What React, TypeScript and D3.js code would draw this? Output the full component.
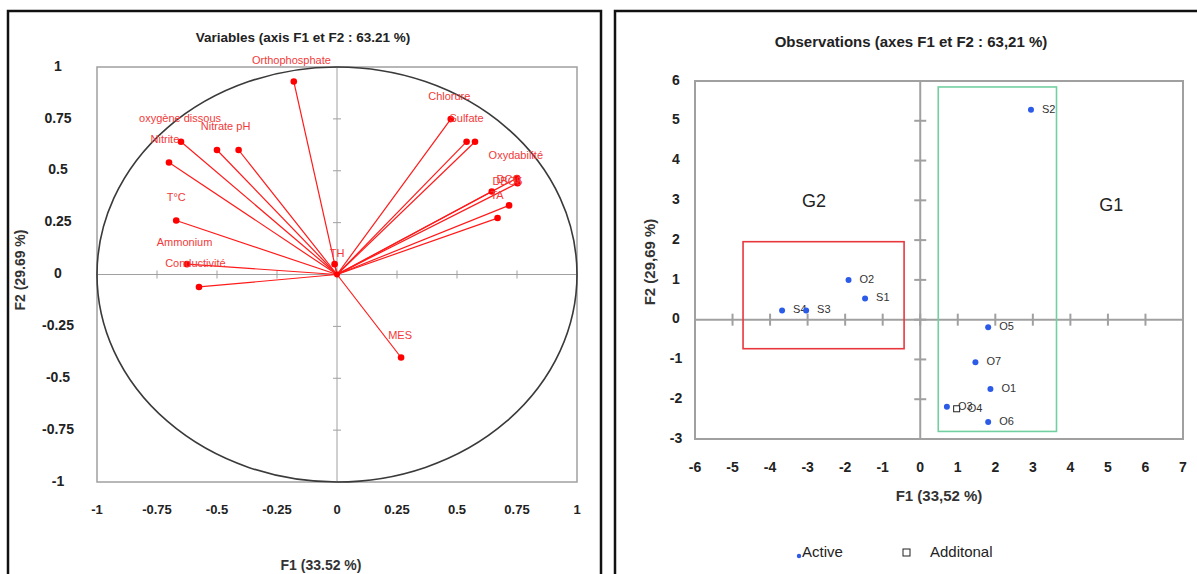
import React, { useEffect, useRef } from 'react';
import * as d3 from 'd3';

// ---- left panel: correlation circle ----
const circleTicks = [-1, -0.75, -0.5, -0.25, 0, 0.25, 0.5, 0.75, 1];
const circleTickLabels = ['-1', '-0.75', '-0.5', '-0.25', '0', '0.25', '0.5', '0.75', '1'];

// loadings of the variables (F1, F2)
const loadF1 = [-0.18, -0.65, -0.5, -0.41, -0.7, -0.67, -0.625, -0.575, 0.474, 0.54, 0.575, 0.75, 0.752, 0.645, 0.717, 0.669, 0.267, -0.01];
const loadF2 = [0.93, 0.64, 0.6, 0.6, 0.54, 0.26, 0.05, -0.06, 0.749, 0.64, 0.64, 0.465, 0.44, 0.4, 0.333, 0.272, -0.4, 0.05];

// variable labels, where XLSTAT put them
const varLabels = ['Orthophosphate', 'oxygène dissous', 'Nitrate', 'pH', 'Nitrite', 'T°C', 'Ammonium', 'Conductivité', 'Chlorure', 'Sulfate', 'Oxydabilité', 'DBO5', 'DCO', 'TA', 'MES', 'TH'];
const labelF1 = [-0.19, -0.654, -0.5, -0.39, -0.717, -0.67, -0.635, -0.59, 0.468, 0.54, 0.745, 0.71, 0.716, 0.667, 0.263, 0.0];
const labelF2 = [1.03, 0.749, 0.71, 0.71, 0.65, 0.367, 0.15, 0.048, 0.855, 0.749, 0.57, 0.445, 0.455, 0.38, -0.295, 0.1];

// ---- right panel: observations ----
const obsXTicks = [-6, -5, -4, -3, -2, -1, 0, 1, 2, 3, 4, 5, 6, 7];
const obsYTicks = [-3, -2, -1, 0, 1, 2, 3, 4, 5, 6];

const obsNames = ['S2', 'O2', 'S1', 'S4', 'S3', 'O5', 'O7', 'O1', 'O6', 'O3'];
const obsF1 = [2.95, -1.91, -1.47, -3.68, -3.04, 1.81, 1.47, 1.87, 1.81, 0.71];
const obsF2 = [5.28, 1.0, 0.53, 0.23, 0.23, -0.19, -1.07, -1.74, -2.57, -2.19];

const supNames = ['O4'];
const supF1 = [0.97];
const supF2 = [-2.24];

const groupNames = ['G2', 'G1'];
const groupLabelF1 = [-2.83, 5.09];
const groupLabelF2 = [2.94, 2.84];
const groupX0 = [-4.72, 0.48];
const groupX1 = [-0.43, 3.63];
const groupY0 = [-0.73, -2.81];
const groupY1 = [1.96, 5.85];
const groupColors = ['#e8383d', '#72d0a0'];

const W = 1197;
const H = 574;
const FONT = "'Liberation Sans', Arial, sans-serif";

const App: React.FC = () => {
  const svgRef = useRef<SVGSVGElement>(null);

  useEffect(() => {
    if (!svgRef.current) return;
    const svg = d3.select(svgRef.current);
    svg.selectAll('*').remove();

    svg.append('rect').attr('width', W).attr('height', H).attr('fill', '#fff');

    // panel frames
    svg.append('rect')
      .attr('x', 8).attr('y', 11).attr('width', 593).attr('height', 620)
      .attr('fill', 'none').attr('stroke', '#111').attr('stroke-width', 2.5);
    svg.append('rect')
      .attr('x', 615).attr('y', 11).attr('width', 620).attr('height', 620)
      .attr('fill', 'none').attr('stroke', '#111').attr('stroke-width', 2.5);

    // ================= left: variables =================
    const xL = d3.scaleLinear().domain([-1, 1]).range([97, 577]);
    const yL = d3.scaleLinear().domain([-1, 1]).range([482, 67]);
    const gL = svg.append('g');

    gL.append('rect')
      .attr('x', xL(-1)).attr('y', yL(1))
      .attr('width', xL(1) - xL(-1)).attr('height', yL(-1) - yL(1))
      .attr('fill', 'none').attr('stroke', '#a0a0a0').attr('stroke-width', 1.5);

    // axes through origin
    gL.append('line')
      .attr('x1', xL(-1)).attr('x2', xL(1)).attr('y1', yL(0)).attr('y2', yL(0))
      .attr('stroke', '#a0a0a0').attr('stroke-width', 1);
    gL.append('line')
      .attr('x1', xL(0)).attr('x2', xL(0)).attr('y1', yL(1)).attr('y2', yL(-1))
      .attr('stroke', '#a0a0a0').attr('stroke-width', 1);

    circleTicks.forEach(t => {
      gL.append('line')
        .attr('x1', xL(t)).attr('x2', xL(t)).attr('y1', yL(0) - 4).attr('y2', yL(0) + 4)
        .attr('stroke', '#a0a0a0').attr('stroke-width', 1);
      gL.append('line')
        .attr('x1', xL(0) - 4).attr('x2', xL(0) + 4).attr('y1', yL(t)).attr('y2', yL(t))
        .attr('stroke', '#a0a0a0').attr('stroke-width', 1);
    });

    // correlation circle
    gL.append('ellipse')
      .attr('cx', xL(0)).attr('cy', yL(0))
      .attr('rx', xL(1) - xL(0)).attr('ry', yL(0) - yL(1))
      .attr('fill', 'none').attr('stroke', '#3a3a3a').attr('stroke-width', 1.6);

    // tick labels
    circleTicks.forEach((t, i) => {
      gL.append('text')
        .attr('x', xL(t)).attr('y', 514)
        .attr('text-anchor', 'middle')
        .style('font-family', FONT).style('font-size', '13px').style('font-weight', '700')
        .style('fill', '#222')
        .text(circleTickLabels[i]);
      gL.append('text')
        .attr('x', 58).attr('y', yL(t))
        .attr('text-anchor', 'middle').attr('dominant-baseline', 'middle')
        .style('font-family', FONT).style('font-size', '14px').style('font-weight', '700')
        .style('fill', '#222')
        .text(circleTickLabels[i]);
    });

    // vectors
    loadF1.forEach((f1, i) => {
      gL.append('line')
        .attr('x1', xL(0)).attr('y1', yL(0))
        .attr('x2', xL(f1)).attr('y2', yL(loadF2[i]))
        .attr('stroke', '#ff1a1a').attr('stroke-width', 1.2);
    });
    loadF1.forEach((f1, i) => {
      gL.append('circle')
        .attr('cx', xL(f1)).attr('cy', yL(loadF2[i])).attr('r', 3.3)
        .attr('fill', '#ff0000');
    });
    gL.append('circle')
      .attr('cx', xL(0)).attr('cy', yL(0)).attr('r', 3)
      .attr('fill', '#ff0000');

    varLabels.forEach((name, i) => {
      gL.append('text')
        .attr('x', xL(labelF1[i])).attr('y', yL(labelF2[i]))
        .attr('text-anchor', 'middle').attr('dominant-baseline', 'middle')
        .style('font-family', FONT).style('font-size', '11px')
        .style('fill', '#f23a3a')
        .text(name);
    });

    // titles
    gL.append('text')
      .attr('x', 303).attr('y', 42)
      .attr('text-anchor', 'middle')
      .style('font-family', FONT).style('font-size', '13.5px').style('font-weight', '700')
      .style('fill', '#222')
      .text('Variables (axis F1 et F2 : 63.21 %)');
    gL.append('text')
      .attr('x', 321).attr('y', 570)
      .attr('text-anchor', 'middle')
      .style('font-family', FONT).style('font-size', '14px').style('font-weight', '700')
      .style('fill', '#333')
      .text('F1 (33.52 %)');
    gL.append('text')
      .attr('transform', 'translate(25,270) rotate(-90)')
      .attr('text-anchor', 'middle')
      .style('font-family', FONT).style('font-size', '14px').style('font-weight', '700')
      .style('fill', '#333')
      .text('F2 (29.69 %)');

    // ================= right: observations =================
    const xR = d3.scaleLinear().domain([-6, 7]).range([695, 1183]);
    const yR = d3.scaleLinear().domain([-3, 6]).range([439, 81]);
    const gR = svg.append('g');

    gR.append('rect')
      .attr('x', xR(-6)).attr('y', yR(6))
      .attr('width', xR(7) - xR(-6)).attr('height', yR(-3) - yR(6))
      .attr('fill', 'none').attr('stroke', '#a0a0a0').attr('stroke-width', 2);

    gR.append('line')
      .attr('x1', xR(-6)).attr('x2', xR(7)).attr('y1', yR(0)).attr('y2', yR(0))
      .attr('stroke', '#a0a0a0').attr('stroke-width', 2);
    gR.append('line')
      .attr('x1', xR(0)).attr('x2', xR(0)).attr('y1', yR(6)).attr('y2', yR(-3))
      .attr('stroke', '#a0a0a0').attr('stroke-width', 2);

    obsXTicks.forEach(t => {
      gR.append('line')
        .attr('x1', xR(t)).attr('x2', xR(t)).attr('y1', yR(0) - 6).attr('y2', yR(0) + 6)
        .attr('stroke', '#a0a0a0').attr('stroke-width', 2);
      gR.append('text')
        .attr('x', xR(t)).attr('y', 472)
        .attr('text-anchor', 'middle')
        .style('font-family', FONT).style('font-size', '14px').style('font-weight', '700')
        .style('fill', '#222')
        .text(String(t));
    });
    obsYTicks.forEach(t => {
      gR.append('line')
        .attr('x1', xR(0) - 6).attr('x2', xR(0) + 6).attr('y1', yR(t)).attr('y2', yR(t))
        .attr('stroke', '#a0a0a0').attr('stroke-width', 2);
      gR.append('text')
        .attr('x', 676).attr('y', yR(t))
        .attr('text-anchor', 'middle').attr('dominant-baseline', 'middle')
        .style('font-family', FONT).style('font-size', '14px').style('font-weight', '700')
        .style('fill', '#222')
        .text(String(t));
    });

    // group boxes
    groupNames.forEach((name, i) => {
      gR.append('rect')
        .attr('x', xR(groupX0[i])).attr('y', yR(groupY1[i]))
        .attr('width', xR(groupX1[i]) - xR(groupX0[i]))
        .attr('height', yR(groupY0[i]) - yR(groupY1[i]))
        .attr('fill', 'none').attr('stroke', groupColors[i]).attr('stroke-width', 1.6);
      gR.append('text')
        .attr('x', xR(groupLabelF1[i])).attr('y', yR(groupLabelF2[i]))
        .attr('text-anchor', 'middle').attr('dominant-baseline', 'middle')
        .style('font-family', FONT).style('font-size', '18px')
        .style('fill', '#222')
        .text(name);
    });

    // active observations
    obsNames.forEach((name, i) => {
      gR.append('circle')
        .attr('cx', xR(obsF1[i])).attr('cy', yR(obsF2[i])).attr('r', 3)
        .attr('fill', '#2c5be8');
      gR.append('text')
        .attr('x', xR(obsF1[i]) + 11).attr('y', yR(obsF2[i]))
        .attr('dominant-baseline', 'middle')
        .style('font-family', FONT).style('font-size', '11px')
        .style('fill', '#333')
        .text(name);
    });

    // supplementary observation
    supNames.forEach((name, i) => {
      gR.append('rect')
        .attr('x', xR(supF1[i]) - 3).attr('y', yR(supF2[i]) - 3)
        .attr('width', 6).attr('height', 6)
        .attr('fill', '#fff').attr('stroke', '#222').attr('stroke-width', 1);
      gR.append('text')
        .attr('x', xR(supF1[i]) + 11).attr('y', yR(supF2[i]))
        .attr('dominant-baseline', 'middle')
        .style('font-family', FONT).style('font-size', '11px')
        .style('fill', '#333')
        .text(name);
    });

    // titles
    gR.append('text')
      .attr('x', 911).attr('y', 47)
      .attr('text-anchor', 'middle')
      .style('font-family', FONT).style('font-size', '15px').style('font-weight', '700')
      .style('fill', '#222')
      .text('Observations (axes F1 et F2 : 63,21 %)');
    gR.append('text')
      .attr('x', 939).attr('y', 501)
      .attr('text-anchor', 'middle')
      .style('font-family', FONT).style('font-size', '15px').style('font-weight', '700')
      .style('fill', '#333')
      .text('F1 (33,52 %)');
    gR.append('text')
      .attr('transform', 'translate(655,262) rotate(-90)')
      .attr('text-anchor', 'middle')
      .style('font-family', FONT).style('font-size', '15px').style('font-weight', '700')
      .style('fill', '#333')
      .text('F2 (29,69 %)');

    // legend
    gR.append('circle')
      .attr('cx', 799).attr('cy', 556).attr('r', 2.2)
      .attr('fill', '#2c5be8');
    gR.append('text')
      .attr('x', 802).attr('y', 553)
      .attr('dominant-baseline', 'middle')
      .style('font-family', FONT).style('font-size', '15px')
      .style('fill', '#222')
      .text('Active');
    gR.append('rect')
      .attr('x', 903).attr('y', 549).attr('width', 7).attr('height', 7)
      .attr('fill', '#fff').attr('stroke', '#222').attr('stroke-width', 1);
    gR.append('text')
      .attr('x', 930).attr('y', 553)
      .attr('dominant-baseline', 'middle')
      .style('font-family', FONT).style('font-size', '15px')
      .style('fill', '#222')
      .text('Additonal');
  }, []);

  return (
    <div style={{ position: 'absolute', left: 0, top: 0 }}>
      <svg ref={svgRef} width={W} height={H} style={{ display: 'block' }} />
    </div>
  );
};

export default App;
